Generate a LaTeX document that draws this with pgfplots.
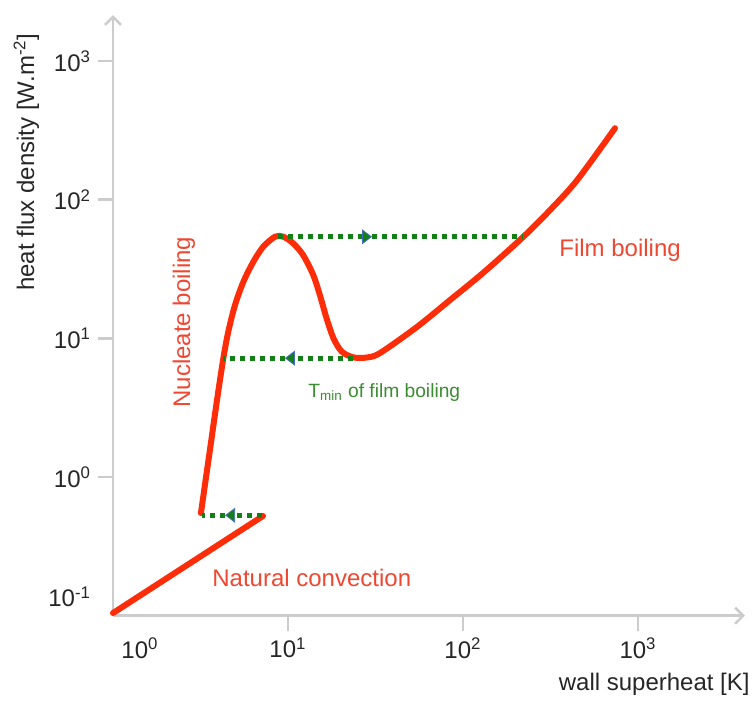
\documentclass[border=0pt]{standalone}
\usepackage{pgfplots}
\pgfplotsset{compat=1.18}
\usepackage{fontspec}
\setmainfont{Liberation Sans}
\usetikzlibrary{arrows.meta}
\definecolor{axisgray}{RGB}{204,204,204}
\definecolor{curvered}{RGB}{252,45,8}
\definecolor{textred}{RGB}{238,72,50}
\definecolor{dotgreen}{RGB}{18,128,22}
\definecolor{textgreen}{RGB}{60,140,50}
\definecolor{tipblue}{RGB}{70,110,190}
\begin{document}
\begin{tikzpicture}
\useasboundingbox (0bp,0bp) rectangle (377bp,351bp);
\begin{axis}[
  at={(56.5bp,43.15bp)}, anchor=south west,
  scale only axis, width=316bp, height=300.35bp,
  xmode=log, ymode=log,
  xmin=1, xmax=4087, ymin=0.1, ymax=2148,
  axis lines=left,
  axis line style={draw=axisgray, line width=1.3bp},
  every outer x axis line/.append style={-{Straight Barb[length=4bp,width=8bp]}},
  every outer y axis line/.append style={-{Straight Barb[length=4bp,width=8bp]}},
  xminorticks=false, yminorticks=false,
  tick align=outside, major tick length=7.5bp,
  tick style={draw=axisgray, line width=1.3bp},
  xtick={10,100,1000},
  xticklabels={10\textsuperscript{1},10\textsuperscript{2},10\textsuperscript{3}},
  ytick={1,10,100,1000},
  yticklabels={10\textsuperscript{0},10\textsuperscript{1},10\textsuperscript{2},10\textsuperscript{3}},
  extra x ticks={1}, extra x tick labels={10\textsuperscript{0}},
  extra x tick style={major tick style={draw=none}, xticklabel style={xshift=13.5bp}},
  extra y ticks={0.1}, extra y tick labels={10\textsuperscript{-1}},
  extra y tick style={major tick style={draw=none}, yticklabel style={yshift=9.5bp}},
  ticklabel style={font=\fontsize{12bp}{14bp}\selectfont, text=black!85},
  clip=false,
]
% natural convection
\addplot[curvered, line width=3bp, line cap=round] coordinates {(1,0.1045) (7.2,0.524)};
% nucleate + transition + film boiling
\addplot[curvered, line width=3bp, smooth, line cap=round] coordinates {
(3.18,0.55) (3.58,1.57) (3.93,3.59) (4.27,7.18) (4.56,11.2) (4.98,17.4)
(5.56,25.6) (6.34,35.7) (7.22,45.8) (8.43,54.1) (9.40,54.1) (10.7,48.5)
(12.2,39.9) (13.95,28.6) (15.2,20.6) (16.6,14.0) (18.2,10.0) (20.3,8.02)
(23.6,7.30) (28.2,7.28) (33.6,7.85) (54.6,12.1)
(84.3,18.9) (130,29.6) (220,53.7) (314,84.1) (448,138) (739,328)};
% dotted arrows
\tikzset{dotline/.style={dotgreen, line width=2.5bp, dash pattern=on 2.5bp off 2.5bp},
  gtip/.style={-{Triangle[length=5bp,width=7.5bp,fill=dotgreen,color=tipblue,line width=0.4bp]}}}
\addplot[dotline, gtip] coordinates {(8.77,54) (30.2,54)};
\addplot[dotline] coordinates {(30.2,54) (220,54)};
\addplot[dotline, gtip] coordinates {(23.5,7.2) (9.6,7.2)};
\addplot[dotline] coordinates {(9.6,7.2) (4.25,7.2)};
\addplot[dotline, gtip] coordinates {(7.1,0.53) (4.37,0.53)};
\addplot[dotline] coordinates {(4.37,0.53) (3.22,0.53)};
\end{axis}
\node[anchor=base west, inner sep=0, text=textred, font=\fontsize{12bp}{14bp}\selectfont] at (279.5bp,222.5bp) {Film boiling};
\node[anchor=base west, inner sep=0, text=textred, font=\fontsize{12bp}{14bp}\selectfont] at (106bp,57.5bp) {Natural convection};
\node[anchor=base, rotate=90, inner sep=0, text=textred, font=\fontsize{12bp}{14bp}\selectfont] at (95bp,190bp) {Nucleate boiling};
\node[anchor=base west, inner sep=0, text=textgreen, font=\fontsize{9.6bp}{11bp}\selectfont] at (154bp,152bp) {T\textsubscript{min} of film boiling};
\node[anchor=base east, rotate=90, inner sep=0, text=black!85, font=\fontsize{12bp}{14bp}\selectfont] at (17bp,334.5bp) {heat flux density [W.m\textsuperscript{-2}]};
\node[anchor=base east, inner sep=0, text=black!85, font=\fontsize{12bp}{14bp}\selectfont] at (375bp,6bp) {wall superheat [K]};
\end{tikzpicture}
\end{document}
